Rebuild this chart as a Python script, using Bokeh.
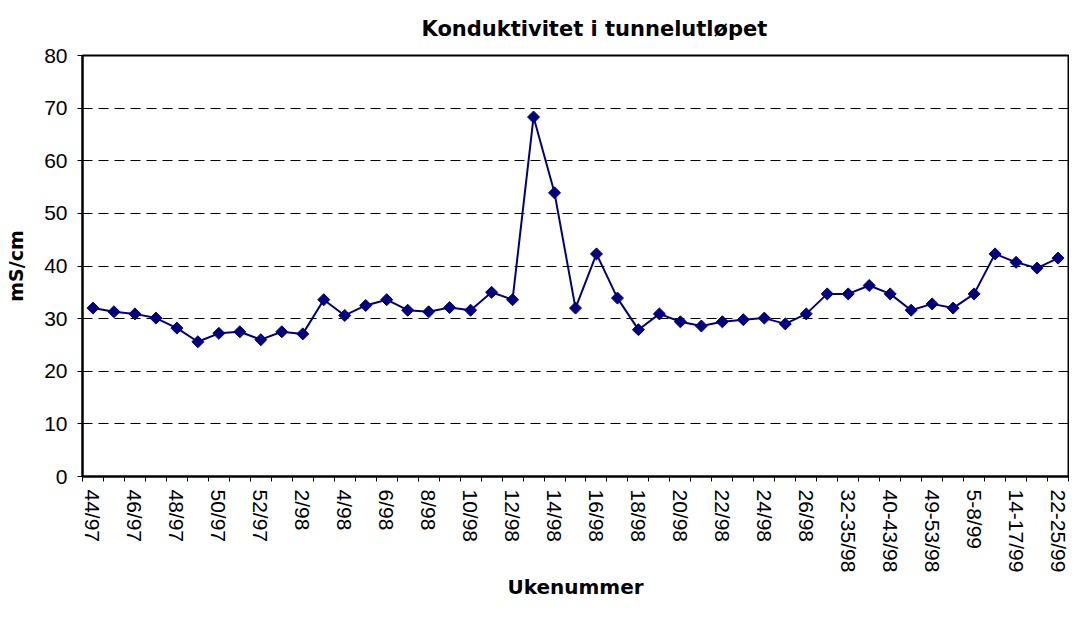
import numpy as np
from bokeh.plotting import figure
from bokeh.models import FixedTicker, Range1d, ColumnDataSource
from bokeh.embed import file_html
from bokeh.resources import INLINE

weeks = ["44/97", "45/97", "46/97", "47/97", "48/97", "49/97", "50/97", "51/97", "52/97",
         "1/98", "2/98", "3/98", "4/98", "5/98", "6/98", "7/98", "8/98", "9/98", "10/98",
         "11/98", "12/98", "13/98", "14/98", "15/98", "16/98", "17/98", "18/98", "19/98",
         "20/98", "21/98", "22/98", "23/98", "24/98", "25/98", "26/98", "27-31/98",
         "32-35/98", "36-39/98", "40-43/98", "44-48/98", "49-53/98", "1-4/99", "5-8/99",
         "9-13/99", "14-17/99", "18-21/99", "22-25/99"]

conductivity = [32.0, 31.3, 30.9, 30.1, 28.2, 25.6, 27.2, 27.5, 26.0, 27.5,
                27.1, 33.6, 30.6, 32.5, 33.6, 31.6, 31.3, 32.1, 31.6, 35.0,
                33.6, 68.3, 53.9, 32.0, 42.3, 33.9, 27.9, 30.9, 29.4, 28.6,
                29.4, 29.8, 30.1, 29.0, 30.9, 34.7, 34.7, 36.3, 34.7, 31.6,
                32.8, 32.0, 34.7, 42.3, 40.7, 39.6, 41.5]

y_ticks = [0, 10, 20, 30, 40, 50, 60, 70, 80]
title_text = "Konduktivitet i tunnelutløpet"
x_title = "Ukenummer"
y_title = "mS/cm"

n = len(weeks)
xs = list(range(n))
src = ColumnDataSource(dict(x=xs, y=conductivity, week=weeks))

p = figure(width=1069, height=602, output_backend="svg", toolbar_location=None,
           x_range=Range1d(-0.5, n - 0.5), y_range=Range1d(0, 80),
           min_border_left=82, min_border_right=1, min_border_top=55,
           min_border_bottom=100)

p.background_fill_color = "white"
p.border_fill_color = "white"
p.outline_line_color = "black"
p.outline_line_width = 2

p.line("x", "y", source=src, line_color="#000080", line_width=2)
p.scatter("x", "y", source=src, marker="square", angle=np.pi / 4, size=8.5,
          fill_color="#000080", line_color="#000080")

# title
p.title.text = title_text
p.title.text_font = "DejaVu Sans"
p.title.text_font_style = "bold"
p.title.text_font_size = "21px"
p.title.text_color = "black"
p.title.align = "left"
p.title.offset = 339
p.title.standoff = 29

# x axis
xa = p.xaxis[0]
xa.ticker = FixedTicker(ticks=xs[::2], minor_ticks=[i - 0.5 for i in range(n + 1)])
xa.major_label_overrides = {i: weeks[i] for i in xs[::2]}
xa.major_label_orientation = -np.pi / 2
xa.major_label_text_font = "Liberation Sans"
xa.major_label_text_font_size = "21px"
xa.major_label_text_color = "black"
xa.major_label_standoff = 8
xa.major_tick_line_color = None
xa.major_tick_out = 5
xa.major_tick_in = 0
xa.minor_tick_line_color = "black"
xa.minor_tick_line_width = 1
xa.minor_tick_out = 5
xa.minor_tick_in = 0
xa.axis_line_color = "black"
xa.axis_line_width = 2
xa.axis_label = x_title
xa.axis_label_text_font = "DejaVu Sans"
xa.axis_label_text_font_style = "bold"
xa.axis_label_text_font_size = "20px"
xa.axis_label_text_color = "black"
xa.axis_label_standoff = 0

# y axis
ya = p.yaxis[0]
ya.ticker = FixedTicker(ticks=y_ticks)
ya.major_label_text_font = "Liberation Sans"
ya.major_label_text_font_size = "21px"
ya.major_label_text_color = "black"
ya.major_label_standoff = 10
ya.major_tick_line_color = "black"
ya.major_tick_out = 5
ya.major_tick_in = 0
ya.minor_tick_line_color = None
ya.axis_line_color = "black"
ya.axis_line_width = 2
ya.axis_label = y_title
ya.axis_label_text_font = "DejaVu Sans"
ya.axis_label_text_font_style = "bold"
ya.axis_label_text_font_size = "19px"
ya.axis_label_text_color = "black"
ya.axis_label_standoff = 14

p.xgrid.grid_line_color = None
p.ygrid.ticker = FixedTicker(ticks=y_ticks[1:-1])
p.ygrid.grid_line_color = "black"
p.ygrid.grid_line_width = 1
p.ygrid.grid_line_dash = "10 6"

open("out.html", "w").write(file_html(p, INLINE))
